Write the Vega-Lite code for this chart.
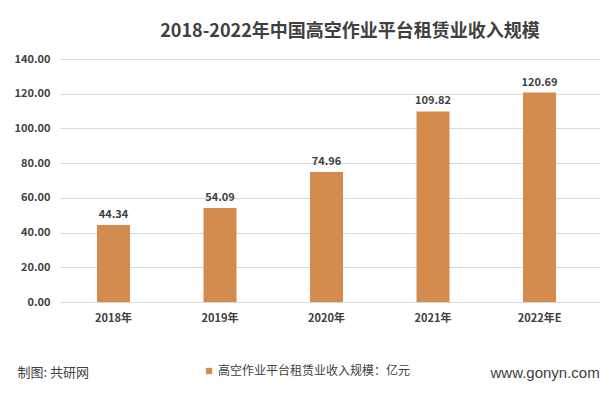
{
  "$schema": "https://vega.github.io/schema/vega-lite/v6.json",
  "autosize": "none",
  "width": 540,
  "height": 243,
  "padding": {"left": 60, "top": 59, "right": 15, "bottom": 92},
  "background": "white",
  "config": {
    "view": {"stroke": null},
    "font": "Noto Sans CJK SC"
  },
  "title": {
    "text": "2018-2022年中国高空作业平台租赁业收入规模",
    "fontSize": 18,
    "fontWeight": "bold",
    "color": "#404040",
    "anchor": "middle",
    "frame": "group",
    "dx": 20,
    "offset": 12
  },
  "data": {
    "values": [
      {"year": "2018年", "value": 44.34, "series": "高空作业平台租赁业收入规模：亿元"},
      {"year": "2019年", "value": 54.09, "series": "高空作业平台租赁业收入规模：亿元"},
      {"year": "2020年", "value": 74.96, "series": "高空作业平台租赁业收入规模：亿元"},
      {"year": "2021年", "value": 109.82, "series": "高空作业平台租赁业收入规模：亿元"},
      {"year": "2022年E", "value": 120.69, "series": "高空作业平台租赁业收入规模：亿元"}
    ]
  },
  "encoding": {
    "x": {
      "field": "year",
      "type": "ordinal",
      "sort": null,
      "scale": {"paddingInner": 0.69, "paddingOuter": 0.38, "align": 0.457},
      "axis": {
        "title": "制图: 共研网",
        "titleX": -43,
        "titleY": 70,
        "titleAlign": "left",
        "titleAnchor": "start",
        "titleBaseline": "middle",
        "titleFontSize": 13,
        "titleFontWeight": "normal",
        "titleColor": "#404040",
        "labelAngle": 0,
        "domain": false,
        "ticks": false,
        "labelPadding": 10,
        "labelFontSize": 11,
        "labelColor": "#404040",
        "labelFontWeight": "bold"
      }
    },
    "y": {
      "field": "value",
      "type": "quantitative",
      "scale": {"domain": [0, 140]},
      "axis": {
        "values": [0, 20, 40, 60, 80, 100, 120, 140],
        "labelOverlap": false,
        "format": ".2f",
        "domain": false,
        "ticks": false,
        "labelPadding": 10,
        "labelFontSize": 11,
        "labelColor": "#404040",
        "labelFontWeight": "bold",
        "gridColor": "#d9d9d9",
        "title": "www.gonyn.com",
        "titleAngle": 0,
        "titleX": 430,
        "titleY": 313,
        "titleAlign": "left",
        "titleBaseline": "middle",
        "titleFontSize": 15,
        "titleFontWeight": "normal",
        "titleColor": "#404040",
        "titleFont": "Liberation Sans"
      }
    }
  },
  "layer": [
    {
      "mark": {"type": "bar", "color": "#D38B4E"},
      "encoding": {
        "color": {
          "field": "series",
          "type": "nominal",
          "scale": {"range": ["#D38B4E"]},
          "legend": {
            "title": null,
            "orient": "none",
            "legendX": 143,
            "legendY": 306,
            "symbolType": "square",
            "symbolSize": 40,
            "symbolStrokeWidth": 0,
            "labelFontSize": 12,
            "labelLimit": 0,
            "labelColor": "#404040",
            "labelOffset": 3,
            "labelFontWeight": "normal"
          }
        }
      }
    },
    {
      "mark": {"type": "text", "baseline": "bottom", "dy": -5, "fontSize": 11, "fontWeight": "bold", "color": "#404040"},
      "encoding": {
        "text": {"field": "value", "type": "quantitative", "format": ".2f"}
      }
    }
  ]
}
